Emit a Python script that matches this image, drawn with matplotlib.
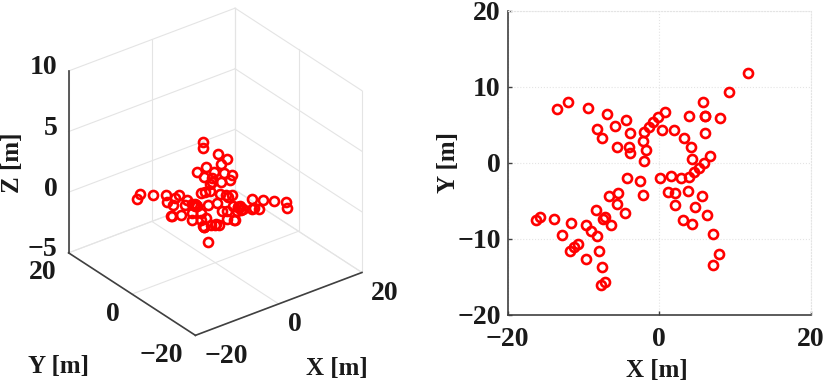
#!/usr/bin/env python3
import numpy as np
import matplotlib
matplotlib.use("Agg")
import matplotlib.pyplot as plt
from mpl_toolkits.mplot3d import proj3d

# Source positions
x_pos = [11.74, 9.19, 5.76, 0.79, -0.13, 3.87, 5.98, 6.07, 7.96, -0.84, -1.36, -1.98, 0.35, 1.98, 6.07, 3.21,
         -2.15, 4.13, -1.80, 4.31, 6.68, -2.07, 5.85, 5.23, 4.62, 3.91, 2.81, 1.54, 0.13, -2.55, -4.31, -2.11,
         1.14, 2.07, 3.82, 5.58, 2.02, 4.75, 3.16, 4.35, 6.33, 7.08, 7.87, 7.03,
         -13.49, -12.00, -9.41, -6.90, -4.40, -5.89, -8.18, -7.60, -3.91, -5.63, -4.04, -3.91,
         -5.49, -6.68, -5.54, -4.48, -8.31, -7.12, -7.47, -6.37, -16.26, -15.74, -13.85, -11.69,
         -9.63, -9.01, -8.26, -12.84, -10.73, -11.25, -11.78, -7.91, -9.63, -7.56, -7.21, -7.74]
y_pos = [11.80, 9.25, 8.03, 6.71, 5.96, 6.14, 6.10, 6.10, 5.83, 5.31, 4.74, 4.04, 4.34, 4.25, 3.90, 3.29,
         2.85, 2.06, 1.62, 0.44, 0.83, 0.18, -0.04, -0.66, -1.23, -1.89, -2.06, -1.80, -1.97, -2.41, -2.02, -4.25,
         -3.82, -3.99, -3.77, -4.34, -5.57, -5.88, -7.50, -8.07, -6.84, -9.34, -12.02, -13.42,
         7.11, 7.94, 7.15, 6.36, 5.61, 4.87, 4.43, 3.25, 3.86, 2.11, 2.11, 1.27,
         -3.95, -4.39, -5.48, -6.58, -6.27, -7.11, -7.37, -8.25, -7.54, -7.15, -7.46, -7.89,
         -8.20, -8.95, -9.61, -9.56, -10.66, -11.14, -11.62, -11.67, -12.72, -13.77, -15.66, -16.14]
z_pos = [0.0, -0.4, 0.4, 1.2, -1.2, 0.4, -0.2, 1.3, -0.2, -1.0, -0.8, -0.7, 3.65, 0.5, -1.0, 3.0,
         -0.5, -0.3, 4.9, 1.6, -1.3, 3.1, -1.2, -1.0, -0.8, -0.6, -0.3, -0.6, -0.4, 2.4, 3.0, 1.7,
         1.1, -0.3, -0.4, 0.3, 0.0, -0.1, 0.3, 0.2, 0.5, 0.75, 1.0, 0.9,
         0.8, 0.9, 0.6, 0.4, 0.2, 0.3, 0.3, 0.2, 0.05, 0.1, 0.0, 0.0,
         2.2, 2.4, 2.6, 1.6, 1.2, 1.9, -1.1, 0.3, 2.2, 2.1, 2.0, 1.95,
         1.15, 1.4, 0.8, 1.8, 1.15, 1.3, 1.5, 1.1, 1.6, 1.9, 2.1, 2.3]

xy_ticks = [-20, 0, 20]
xy_labels = ["\u221220", "0", "20"]
yy_ticks = [-20, -10, 0, 10, 20]
yy_labels = ["\u221220", "\u221210", "0", "10", "20"]
z_ticks = [-5, 0, 5, 10]
z_labels = ["\u22125", "0", "5", "10"]

plt.rcParams['font.family'] = ['Liberation Serif', 'DejaVu Serif']
plt.rcParams['font.weight'] = 'bold'

W, H = 827, 386
TICK_FS = 20
LABEL_FS = 18
TEXT_COLOR = '#1a1a1a'
GRID = '#e4e4e4'
DARK = '#404040'

fig = plt.figure(figsize=(W / 100, H / 100), dpi=100)

# 3D panel, drawn by hand so the walls and labels sit where the original has them
ax3 = fig.add_axes([34.5 / W, 33.5 / H, 352 / W, 352 / H], projection='3d', proj_type='ortho')
ax3.set_axis_off()
ax3.set_box_aspect((1, 1, 1))
ax3.view_init(elev=29.7, azim=-127.3)
ax3.set_xlim(-20, 20)
ax3.set_ylim(-20, 20)
ax3.set_zlim(-5, 10)

for z in z_ticks:
    ax3.plot([-20, 20], [20, 20], [z, z], color=GRID, lw=0.8)
    ax3.plot([20, 20], [20, -20], [z, z], color=GRID, lw=0.8)
for t in xy_ticks:
    ax3.plot([t, t], [20, 20], [-5, 10], color=GRID, lw=0.8)
    ax3.plot([20, 20], [t, t], [-5, 10], color=GRID, lw=0.8)
    ax3.plot([t, t], [-20, 20], [-5, -5], color=GRID, lw=0.8)
    ax3.plot([-20, 20], [t, t], [-5, -5], color=GRID, lw=0.8)

ax3.plot([-20, -20], [20, 20], [-5, 10], color=DARK, lw=1.2)
ax3.plot([-20, -20], [-20, 20], [-5, -5], color=DARK, lw=1.2)
ax3.plot([-20, 20], [-20, -20], [-5, -5], color=DARK, lw=1.2)

ax3.plot(x_pos, y_pos, z_pos, 'o', mfc='none', mec='red', ms=6.5, mew=1.9)


def tick_label(x, y, z, label, dx, dy, ha):
    # label a box point, offset in pixels from where it lands on screen
    px, py, _ = proj3d.proj_transform(x, y, z, ax3.get_proj())
    ax3.annotate(label, (px, py), xytext=(dx, dy), textcoords='offset pixels', ha=ha, va='center',
                 fontsize=TICK_FS, color=TEXT_COLOR, annotation_clip=False)


for z, lab in zip(z_ticks, z_labels):
    tick_label(-20, 20, z, lab, -11, 3, 'right')
for t, lab in zip(xy_ticks, xy_labels):
    tick_label(-20, t, -5, lab, -12, -20, 'right')
    tick_label(t, -20, -5, lab, 9, -21, 'left')

fig.text(13 / W, 1 - 163 / H, "Z [m]", rotation=90, ha='center', va='center', fontsize=LABEL_FS, color=TEXT_COLOR)
fig.text(58 / W, 1 - 367 / H, "Y [m]", ha='center', va='center', fontsize=LABEL_FS, color=TEXT_COLOR)
fig.text(337 / W, 1 - 369 / H, "X [m]", ha='center', va='center', fontsize=LABEL_FS, color=TEXT_COLOR)

# XY panel
ax = fig.add_axes([507.7 / W, 1 - 314.5 / H, 303.3 / W, 303.8 / H])
ax.plot(x_pos, y_pos, 'o', mfc='none', mec='red', ms=6.5, mew=1.9, clip_on=False)
ax.set_xlim(-20, 20)
ax.set_ylim(-20, 20)
ax.set_xticks(xy_ticks)
ax.set_xticklabels(xy_labels)
ax.set_yticks(yy_ticks)
ax.set_yticklabels(yy_labels)
ax.tick_params(direction='in', length=3, width=1, color=DARK, labelsize=TICK_FS, labelcolor=TEXT_COLOR)
ax.tick_params(axis='x', pad=9)
ax.tick_params(axis='y', pad=5)
ax.grid(True, color=GRID, lw=0.8, linestyle=':')
ax.set_axisbelow(True)
for side in ['top', 'right']:
    ax.spines[side].set_color(GRID)
    ax.spines[side].set_linestyle(':')
    ax.spines[side].set_linewidth(0.8)
for side in ['left', 'bottom']:
    ax.spines[side].set_color(DARK)
    ax.spines[side].set_linewidth(1.2)

fig.text(657 / W, 1 - 370 / H, "X [m]", ha='center', va='center', fontsize=LABEL_FS, color=TEXT_COLOR)
fig.text(448 / W, 1 - 163 / H, "Y [m]", rotation=90, ha='center', va='center', fontsize=LABEL_FS, color=TEXT_COLOR)

fig.savefig("out.png", dpi=100)
